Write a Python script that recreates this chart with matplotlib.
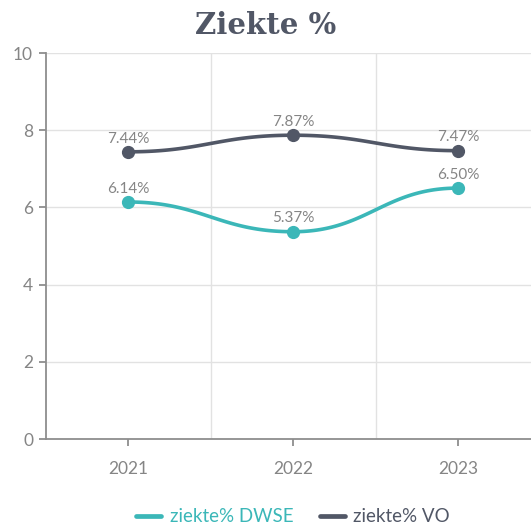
import matplotlib
matplotlib.use("Agg")
import matplotlib.pyplot as plt
import numpy as np

years = ["2021", "2022", "2023"]
dwse = [6.14, 5.37, 6.50]
vo = [7.44, 7.87, 7.47]
series_names = ["ziekte% DWSE", "ziekte% VO"]

C_DWSE = "#3bb7b8"
C_VO = "#515766"
AXIS = "#8e8e8e"
GRID = "#e2e2e2"
LABEL = "#858585"
FONT = "Lato"


def smooth(xs, ys, k=0.45, n=60):
    # cubic beziers with horizontal handles at every point
    t = np.linspace(0, 1, n)[:, None]
    out = []
    for i in range(1, len(xs)):
        dx = xs[i] - xs[i - 1]
        p0 = np.array([xs[i - 1], ys[i - 1]])
        p1 = np.array([xs[i - 1] + k * dx, ys[i - 1]])
        p2 = np.array([xs[i] - k * dx, ys[i]])
        p3 = np.array([xs[i], ys[i]])
        out.append((1 - t) ** 3 * p0 + 3 * (1 - t) ** 2 * t * p1
                   + 3 * (1 - t) * t ** 2 * p2 + t ** 3 * p3)
    pts = np.vstack(out)
    return pts[:, 0], pts[:, 1]


W, H = 531, 528
fig = plt.figure(figsize=(W / 100, H / 100), dpi=100)
fig.patch.set_facecolor("white")

left_px, right_px, top_px, bottom_px = 45.5, W, 53, 439
ax = fig.add_axes([left_px / W, (H - bottom_px) / H, (right_px - left_px) / W, (bottom_px - top_px) / H])
ax.set_facecolor("white")

x = np.arange(len(years))
for vals, name, col in [(dwse, series_names[0], C_DWSE), (vo, series_names[1], C_VO)]:
    sx, sy = smooth(x, vals)
    ax.plot(sx, sy, color=col, lw=2.6, solid_capstyle="round", zorder=3, label=name)
    ax.plot(x, vals, "o", color=col, ms=8.5, zorder=4)
    for xi, v in zip(x, vals):
        ax.annotate(f"{v:.2f}%", (xi, v), xytext=(0, 4.5), textcoords="offset points",
                    ha="center", va="bottom", fontsize=11, color=LABEL, family=FONT,
                    zorder=5)

ax.set_yticks([0, 2, 4, 6, 8, 10])
ax.set_xticks(x)
ax.set_xticklabels(years)
ax.set_xticks([0.5, 1.5, 2.5], minor=True)
ax.set_xlim(-0.5, -0.5 + (right_px - left_px) / 165.0)
ax.set_ylim(0, 10)

ax.grid(True, axis="y", which="major", color=GRID, lw=1)
ax.grid(True, axis="x", which="minor", color=GRID, lw=1)
ax.set_axisbelow(True)

for s in ("top", "right"):
    ax.spines[s].set_visible(False)
for s in ("left", "bottom"):
    ax.spines[s].set_color(AXIS)
    ax.spines[s].set_linewidth(1.3)
ax.tick_params(axis="both", which="major", color=AXIS, width=1.3, length=5,
               labelcolor=LABEL, labelsize=12.5)
ax.tick_params(axis="x", which="major", pad=11)
ax.tick_params(axis="y", which="major", pad=4)
ax.tick_params(axis="x", which="minor", length=0)
for lab in ax.get_xticklabels() + ax.get_yticklabels():
    lab.set_family(FONT)

fig.text(0.5, 1 - 25 / H, "Ziekte %", ha="center", va="center", fontsize=21,
         fontweight="bold", color=C_VO, family="DejaVu Serif")

leg = fig.legend(*ax.get_legend_handles_labels(), loc="center", ncol=2,
                 bbox_to_anchor=(293 / W, 1 - 517 / H), frameon=False,
                 prop={"family": FONT, "size": 13.5}, handlelength=1.35,
                 handletextpad=0.45, columnspacing=1.4)
for txt, col in zip(leg.get_texts(), [C_DWSE, C_VO]):
    txt.set_color(col)
for h in leg.get_lines():
    h.set_linewidth(3.4)

fig.savefig("out.png", dpi=100, facecolor="white")
